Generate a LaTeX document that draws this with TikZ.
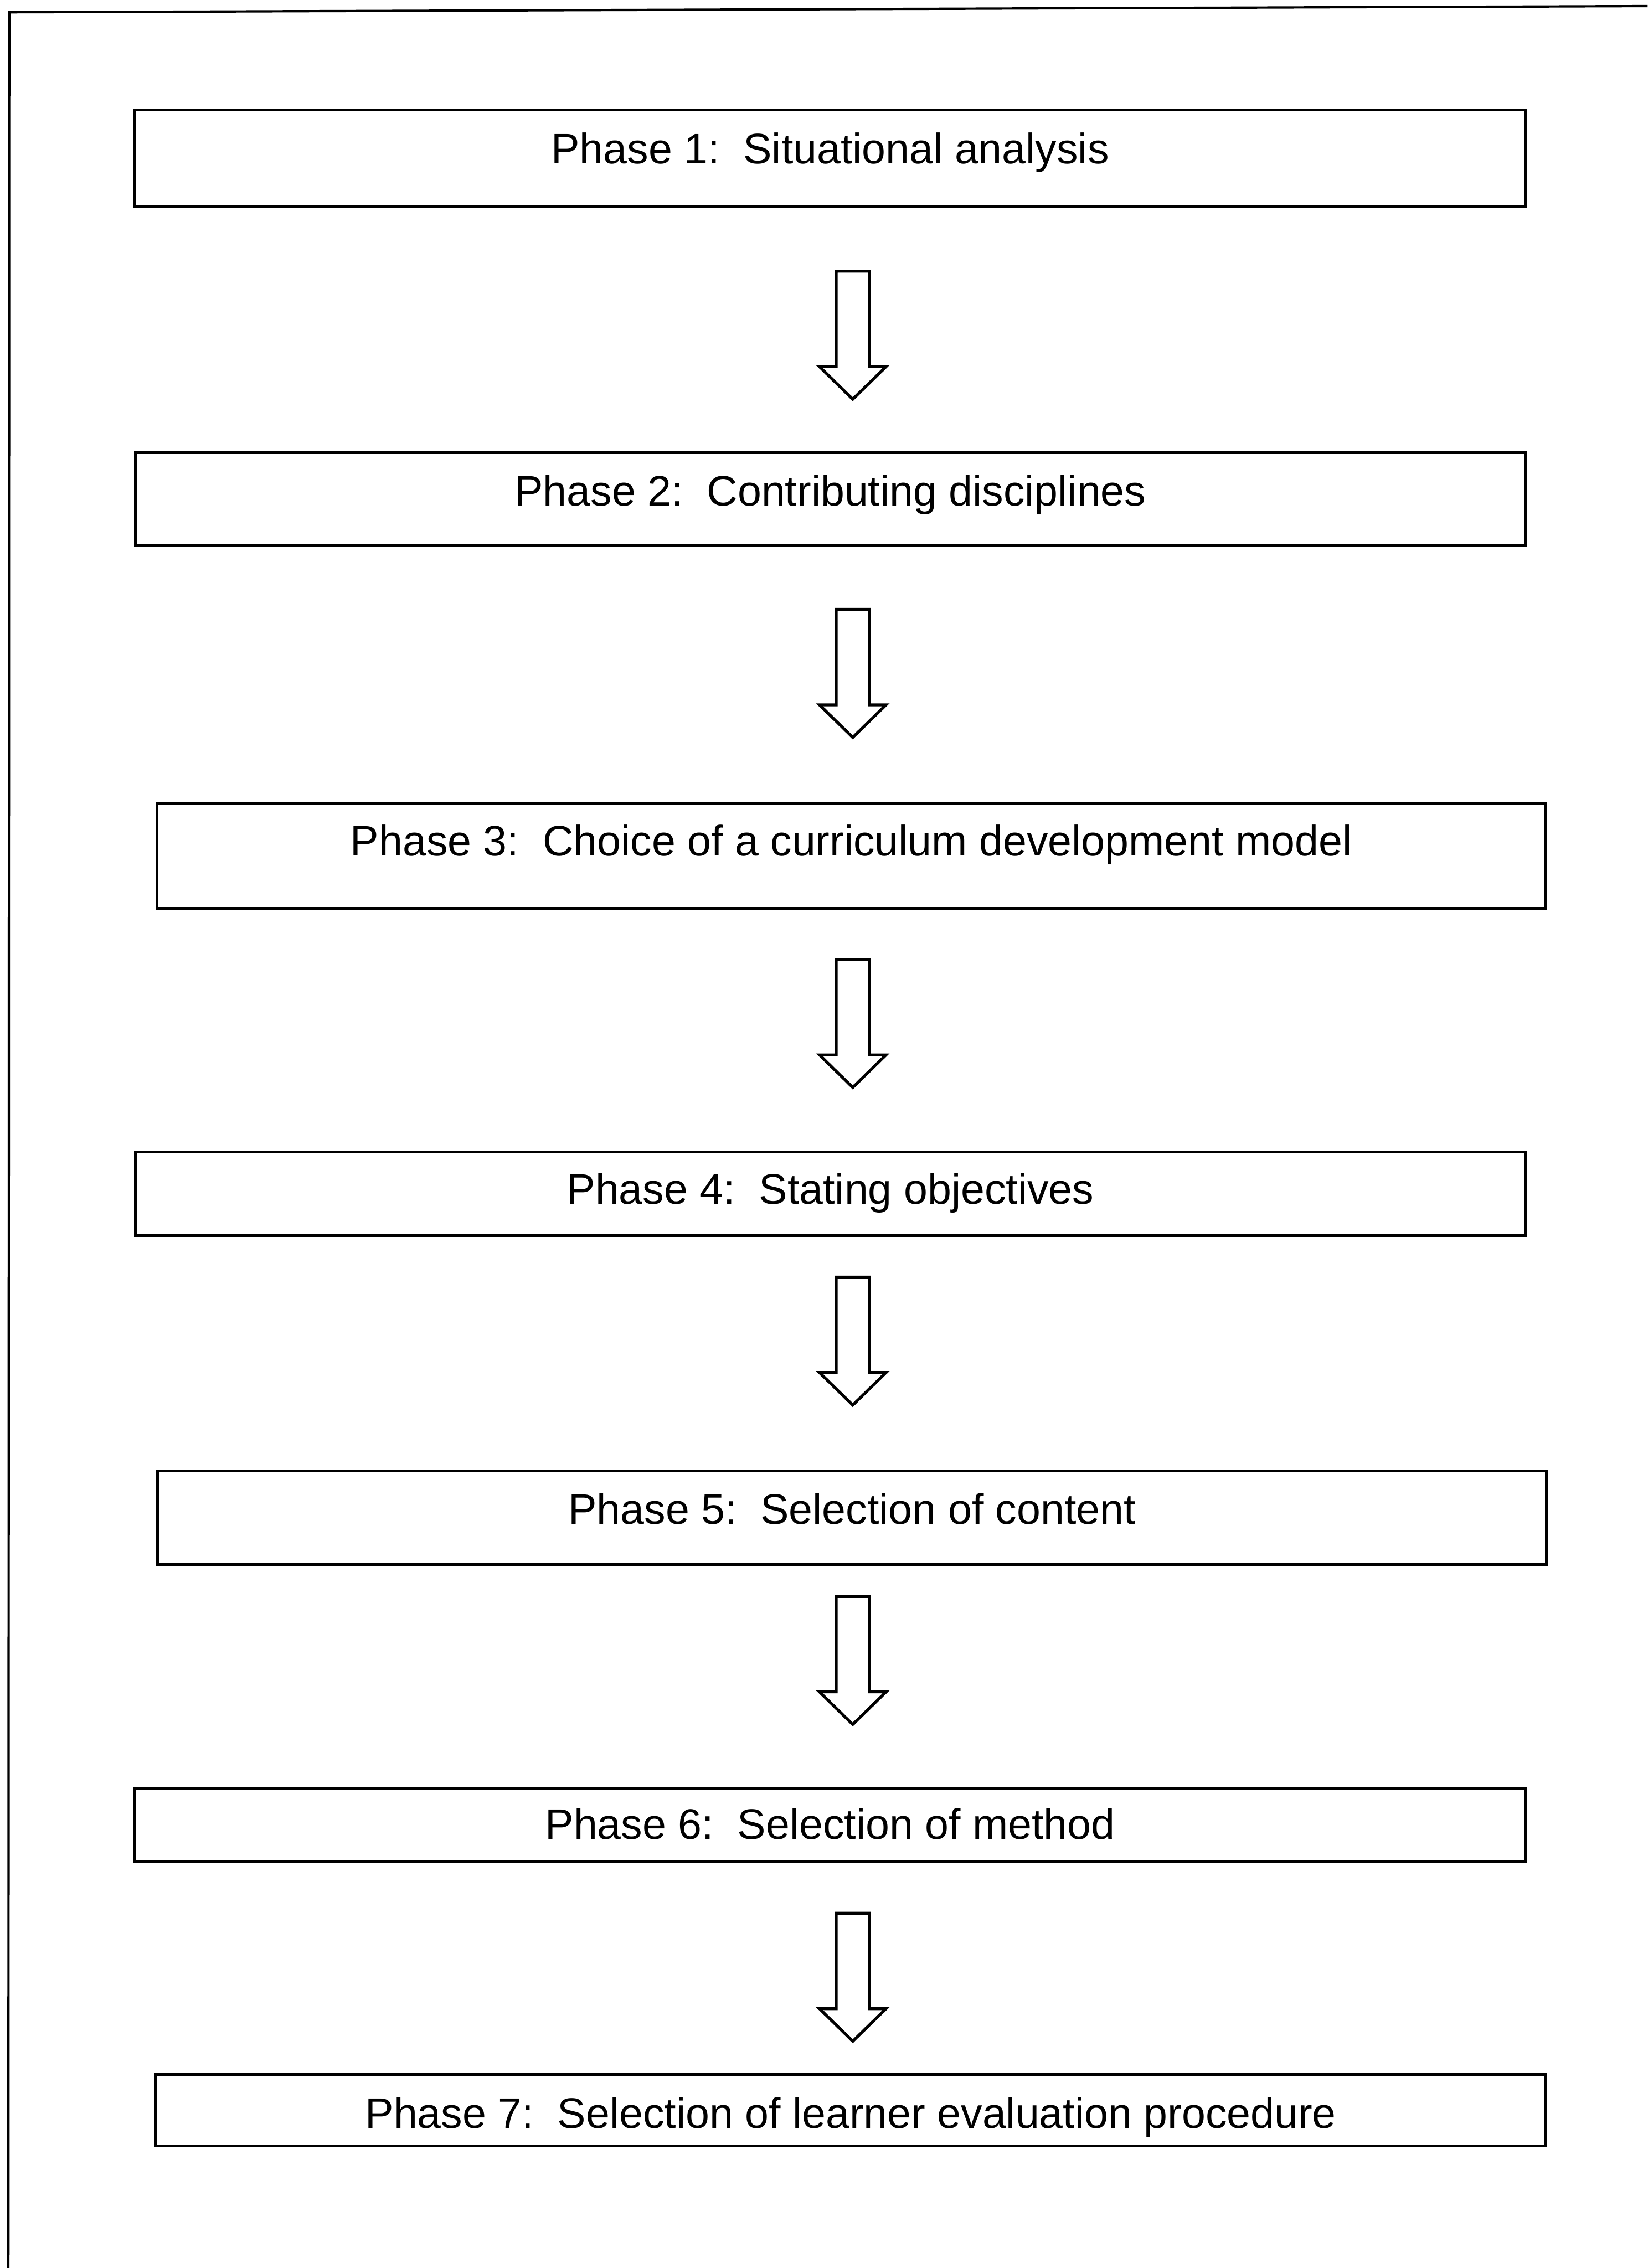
\documentclass[tikz,border=0pt]{standalone}
\usepackage{fontspec}
\setmainfont{Liberation Sans}
\usetikzlibrary{calc,fit}

\tikzset{
  phasebox/.style={draw=black, line width=0.5mm, rectangle, inner sep=0pt, outer sep=0pt},
  phasetext/.style={anchor=base, inner sep=0pt, font=\fontsize{21pt}{25pt}\selectfont},
  frameline/.style={draw=black, line width=0.4mm},
  downarrow/.pic={
    \draw[line width=0.5mm, fill=white]
      (-11.5,0) -- (-11.5,66) -- (-23,66) -- (0,88.5) -- (23,66)
      -- (11.5,66) -- (11.5,0) -- cycle;
  }
}

\begin{document}
\begin{tikzpicture}[x=0.25mm, y=-0.25mm]
  \useasboundingbox (0,0) rectangle (1139,1568);
  \fill[white] (0,0) rectangle (1139,1568);

  % page frame (open at right and bottom)
  \draw[frameline] (5.8,1568) -- (6.4,8.5) -- (1139,4.2);

  % phase boxes
  \node[phasebox, fit={(93.3,76) (1054.4,143)}] (p1) {};
  \node[phasebox, fit={(93.6,313) (1054.4,377)}] (p2) {};
  \node[phasebox, fit={(108.4,555.5) (1068.6,628)}] (p3) {};
  \node[phasebox, fit={(93.6,796.5) (1054.4,854)}] (p4) {};
  \node[phasebox, fit={(109,1017) (1069,1081.5)}] (p5) {};
  \node[phasebox, fit={(93.3,1236.6) (1054.4,1287.2)}] (p6) {};
  \node[phasebox, fit={(107.7,1434) (1068.6,1483.5)}] (p7) {};

  % phase labels
  \node[phasetext] (t1) at ($(p1.north)+(0,37)$) {Phase 1:\ \ Situational analysis};
  \node[phasetext] (t2) at ($(p2.north)+(0,36.5)$) {Phase 2:\ \ Contributing disciplines};
  \node[phasetext] (t3) at ($(p3.north)+(0,36)$) {Phase 3:\ \ Choice of a curriculum development model};
  \node[phasetext] (t4) at ($(p4.north)+(0,36)$) {Phase 4:\ \ Stating objectives};
  \node[phasetext] (t5) at ($(p5.north)+(0,36.5)$) {Phase 5:\ \ Selection of content};
  \node[phasetext] (t6) at ($(p6.north)+(0,35)$) {Phase 6:\ \ Selection of method};
  \node[phasetext] (t7) at ($(p7.north)+(0,37.5)$) {Phase 7:\ \ Selection of learner evaluation procedure};

  % block arrows between consecutive phases
  \coordinate (a1) at (589.5,187.5);
  \coordinate (a2) at (589.5,421.3);
  \coordinate (a3) at (589.5,663.3);
  \coordinate (a4) at (589.5,882.9);
  \coordinate (a5) at (589.5,1103.7);
  \coordinate (a6) at (589.5,1322.7);
  \foreach \c in {a1,a2,a3,a4,a5,a6}
    \pic at (\c) {downarrow};
\end{tikzpicture}
\end{document}
